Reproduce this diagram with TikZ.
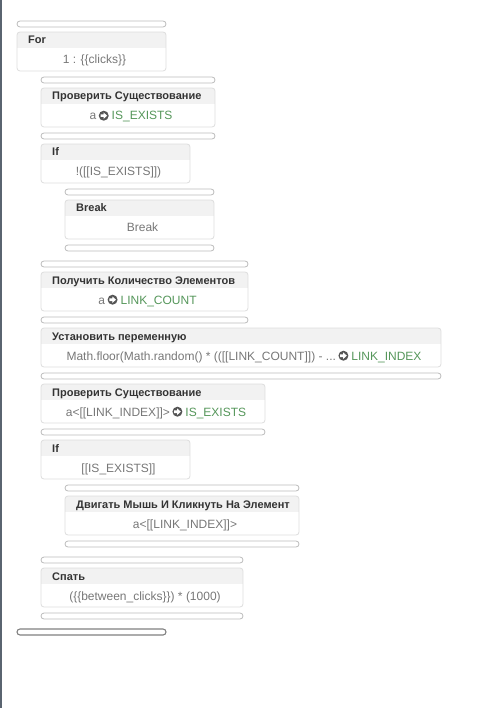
\documentclass[tikz,border=0pt]{standalone}
\usepackage{fontspec}
\setmainfont{Liberation Sans}

\definecolor{boxline}{HTML}{DDDDDD}
\definecolor{headfill}{HTML}{F2F2F2}
\definecolor{headink}{HTML}{333333}
\definecolor{bodyink}{HTML}{777777}
\definecolor{varink}{HTML}{55965A}
\definecolor{iconfill}{HTML}{555555}
\definecolor{barline}{HTML}{BBBBBB}
\definecolor{lastbar}{HTML}{808080}
\definecolor{sideline}{HTML}{5A6470}

\tikzset{
    blockframe/.style={draw=boxline, line width=0.8pt, rounded corners=3pt},
    blockhead/.style={fill=headfill},
    headtext/.style={anchor=base west, inner sep=0pt, text=headink,
        font=\fontsize{11}{13}\selectfont\bfseries},
    bodytext/.style={anchor=base, inner sep=0pt, text=bodyink,
        font=\fontsize{12}{14}\selectfont},
    gapbar/.style={draw=barline, line width=0.8pt, rounded corners=3pt},
}

% small round arrow icon
\newcommand{\goicon}{\tikz[x=1pt,y=1pt,baseline=-4.3pt]{%
    \fill[iconfill] (0,0) circle (5);
    \fill[white] (-3.2,-1.3) -- (-0.2,-1.3) -- (-0.2,-3.2) -- (3.4,0)
        -- (-0.2,3.2) -- (-0.2,1.3) -- (-3.2,1.3) -- cycle;}}
\newcommand{\varname}[1]{\textcolor{varink}{#1}}
\newcommand{\intovar}[1]{\hspace{2.5pt}\goicon\hspace{3pt}\varname{#1}}

% name, left, top, right, title, body
\newcommand{\stepblock}[6]{%
    \begin{scope}
        \clip[rounded corners=3pt] (#2,#3) rectangle (#4,#3+39);
        \fill[blockhead] (#2,#3) rectangle (#4,#3+16);
    \end{scope}
    \draw[blockframe] (#2,#3) rectangle (#4,#3+39);
    \node[headtext] (#1-head) at (#2+11,#3+12) {#5};
    \node[bodytext] (#1) at ({(#2+#4)/2+3},#3+32) {#6};
}

\begin{document}
\begin{tikzpicture}[x=1pt,y=-1pt]
    \useasboundingbox (0,0) rectangle (485,708);

    \draw [sideline, line width=1.5pt] (1,0) -- (1,708);

    % spacers between the steps
    \foreach \l/\t/\r in {17/21/166, 41/77/215, 41/133/215, 65/189/214,
        65/245/214, 41/261/248, 41/317/248, 41/373/441, 41/429/265,
        65/485/299, 65/541/299, 41/557/243, 41/613/243}{%
            \draw [gapbar] (\l,\t) rectangle (\r,\t+6);
        }
    \draw [gapbar, draw=lastbar, line width=1.1pt] (17,629) rectangle (166,635);

    \stepblock{loop}{17}{32}{166}{For}{1 : \{\{clicks\}\}}
    \stepblock{check1}{41}{88}{215}{Проверить Существование}{a\intovar{IS\_EXISTS}}
    \stepblock{if1}{41}{144}{190}{If}{!([[IS\_EXISTS]])}
    \stepblock{stop}{65}{200}{214}{Break}{Break}
    \stepblock{count}{41}{272}{248}{Получить Количество Элементов}{a\intovar{LINK\_COUNT}}
    \stepblock{setvar}{41}{328}{441}{Установить переменную}%
        {Math.floor(Math.random() * (([[LINK\_COUNT]]) - ...\intovar{LINK\_INDEX}}
    \stepblock{check2}{41}{384}{265}{Проверить Существование}%
        {a<[[LINK\_INDEX]]>\intovar{IS\_EXISTS}}
    \stepblock{if2}{41}{440}{190}{If}{[[IS\_EXISTS]]}
    \stepblock{click}{65}{496}{299}{Двигать Мышь И Кликнуть На Элемент}{a<[[LINK\_INDEX]]>}
    \stepblock{sleep}{41}{568}{243}{Спать}{(\{\{between\_clicks\}\}) * (1000)}

\end{tikzpicture}
\end{document}
